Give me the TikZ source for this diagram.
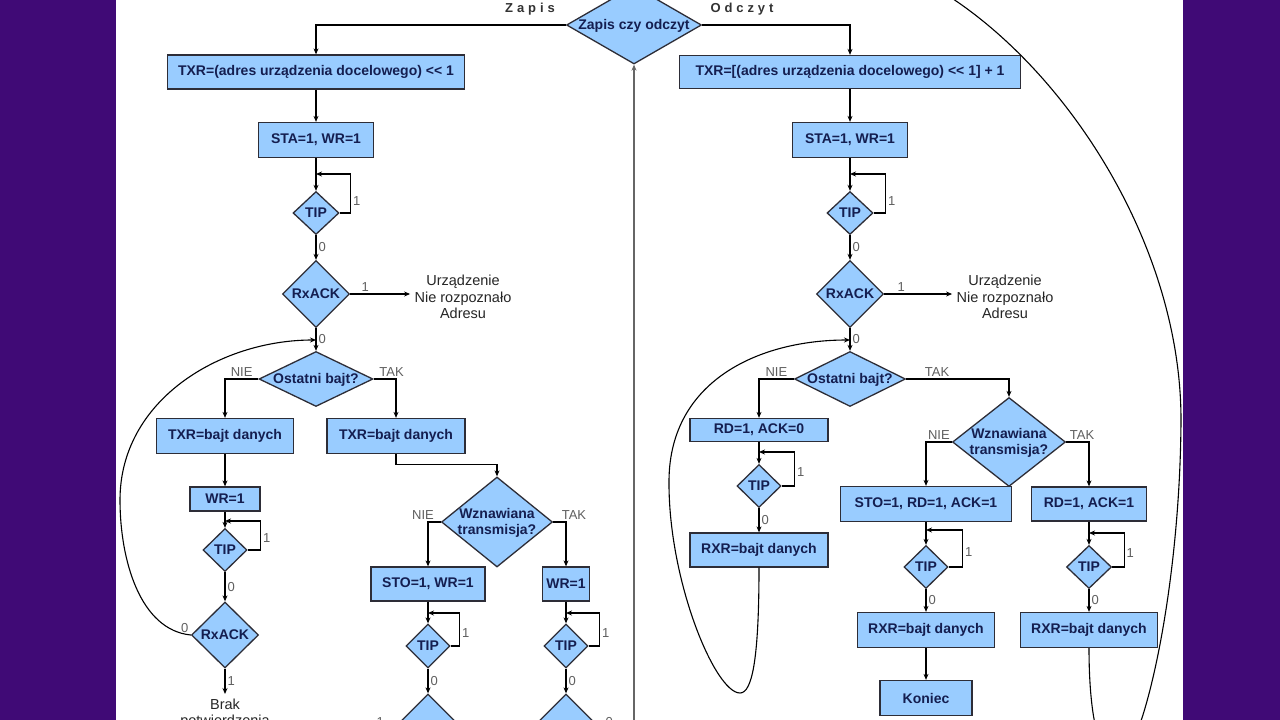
\documentclass[tikz,border=0pt]{standalone}
\usepackage{fontspec}
\setmainfont{Liberation Sans}
\usetikzlibrary{shapes.geometric,arrows.meta}
\definecolor{tlo}{RGB}{64,10,118}
\definecolor{pole}{RGB}{153,204,255}
\definecolor{ramka}{RGB}{45,45,55}
\definecolor{napis}{RGB}{20,30,80}
\definecolor{szary}{RGB}{95,95,95}
\newcommand{\dtxt}[1]{\smash{\makebox[0pt]{\raisebox{-.38em}{\begin{tabular}{@{}c@{}}#1\end{tabular}}}}}
\newcommand{\shl}{\textless\kern0pt\textless}
\begin{document}
\begin{tikzpicture}[x=1pt,y=-1pt,line width=1.1pt,>={Stealth[length=6pt,width=5pt]},
  box/.style={draw=ramka,fill=pole,line width=1.3pt,inner sep=0pt,text=napis,font=\bfseries\fontsize{14}{16}\selectfont},
  dia/.style={diamond,draw=ramka,fill=pole,line width=1.3pt,inner sep=0pt,text=napis,font=\bfseries\fontsize{14}{16}\selectfont},
  lab/.style={text=szary,font=\fontsize{13}{15}\selectfont,inner sep=2pt},
  kier/.style={text=black!80,font=\bfseries\fontsize{13}{15}\selectfont\addfontfeatures{LetterSpace=30}},
  uwaga/.style={text=black!85,font=\fontsize{14.5}{16.5}\selectfont,align=center,inner sep=4pt}]
\useasboundingbox (0,0) rectangle (1280,720);
\fill[tlo] (0,0) rectangle (1280,720);
\fill[white] (116,0) rectangle (1183,720);
\clip (116,0) rectangle (1183,720);

\node[dia,minimum width=135pt,minimum height=78pt] (zc) at (634,25) {\dtxt{Zapis czy odczyt}};
\node[kier] (zp) at (530,9) {Zapis};
\node[kier] (od) at (742,9) {Odczyt};

\node[box,minimum width=297pt,minimum height=34pt] (t1) at (316,72) {TXR=(adres urządzenia docelowego) \shl{} 1};
\node[box,minimum width=115pt,minimum height=35pt] (s1) at (316,140) {STA=1, WR=1};
\node[dia,minimum width=46pt,minimum height=43pt] (p1) at (316,213) {\dtxt{TIP}};
\node[dia,minimum width=67pt,minimum height=67pt] (r1) at (316,294) {\dtxt{RxACK}};
\node[uwaga] (u1) at (463,297) {Urządzenie\\Nie rozpoznało\\Adresu};
\node[dia,minimum width=114pt,minimum height=55pt] (o1) at (316,379) {\dtxt{Ostatni bajt?}};
\node[box,minimum width=137pt,minimum height=35pt] (b1) at (225,436) {TXR=bajt danych};
\node[box,minimum width=138pt,minimum height=35pt] (b2) at (396,436) {TXR=bajt danych};
\node[box,minimum width=70pt,minimum height=24pt] (w1) at (225,499) {WR=1};
\node[dia,minimum width=44pt,minimum height=43pt] (p2) at (225,550) {\dtxt{TIP}};
\node[dia,minimum width=67pt,minimum height=66pt] (r2) at (225,635) {\dtxt{RxACK}};
\node[uwaga,anchor=north] (bp) at (225,694) {Brak\\potwierdzenia};
\node[dia,minimum width=111pt,minimum height=90pt] (n1) at (497,522) {\dtxt{Wznawiana\\transmisja?}};
\node[box,minimum width=114pt,minimum height=34pt] (s2) at (428,584) {STO=1, WR=1};
\node[box,minimum width=47pt,minimum height=34pt] (w2) at (566,584) {WR=1};
\node[dia,minimum width=44pt,minimum height=44pt] (p3) at (428,646) {\dtxt{TIP}};
\node[dia,minimum width=44pt,minimum height=44pt] (p4) at (566,646) {\dtxt{TIP}};
\node[dia,minimum width=70pt,minimum height=70pt] (r3) at (428,729) {\dtxt{RxACK}};
\node[dia,minimum width=70pt,minimum height=70pt] (r4) at (566,729) {\dtxt{RxACK}};

\node[box,minimum width=341pt,minimum height=33pt] (t2) at (850,72) {TXR=[(adres urządzenia docelowego) \shl{} 1] + 1};
\node[box,minimum width=115pt,minimum height=35pt] (s3) at (850,140) {STA=1, WR=1};
\node[dia,minimum width=46pt,minimum height=43pt] (p5) at (850,213) {\dtxt{TIP}};
\node[dia,minimum width=67pt,minimum height=67pt] (r5) at (850,294) {\dtxt{RxACK}};
\node[uwaga] (u2) at (1005,297) {Urządzenie\\Nie rozpoznało\\Adresu};
\node[dia,minimum width=111pt,minimum height=55pt] (o2) at (850,379) {\dtxt{Ostatni bajt?}};
\node[box,minimum width=138pt,minimum height=23pt] (d1) at (759,430) {RD=1, ACK=0};
\node[dia,minimum width=44pt,minimum height=43pt] (p6) at (759,486) {\dtxt{TIP}};
\node[box,minimum width=138pt,minimum height=34pt] (x1) at (759,550) {RXR=bajt danych};
\node[dia,minimum width=113pt,minimum height=89pt] (n2) at (1009,442) {\dtxt{Wznawiana\\transmisja?}};
\node[box,minimum width=171pt,minimum height=35pt] (s4) at (926,504) {STO=1, RD=1, ACK=1};
\node[box,minimum width=115pt,minimum height=34pt] (d2) at (1089,504) {RD=1, ACK=1};
\node[dia,minimum width=44pt,minimum height=43pt] (p7) at (926,567) {\dtxt{TIP}};
\node[dia,minimum width=45pt,minimum height=43pt] (p8) at (1089,567) {\dtxt{TIP}};
\node[box,minimum width=137pt,minimum height=35pt] (x2) at (926,630) {RXR=bajt danych};
\node[box,minimum width=137pt,minimum height=35pt] (x3) at (1089,630) {RXR=bajt danych};
\node[box,minimum width=92pt,minimum height=35pt] (k1) at (926,698) {Koniec};

\coordinate (j1) at (316,174);
\coordinate (j2) at (316,340);
\coordinate (j3) at (225,521);
\coordinate (j4) at (428,613);
\coordinate (j5) at (566,613);
\coordinate (j6) at (850,174);
\coordinate (j7) at (759,452);
\coordinate (j8) at (850,340);
\coordinate (j9) at (926,530);
\coordinate (j10) at (1089,533);
\coordinate (cb) at (634,800);

\draw[->] (zc.west) -| (t1.north);
\draw[->] (zc.east) -| (t2.north);
\draw[->,black!60,line width=2pt] (cb) -- (zc.south);

\draw[->] (t1) -- (s1);
\draw[->] (s1) -- (p1);
\draw[->] (p1.east) -- ++(11,0) |- node[lab,right,pos=.15]{1} (j1);
\draw[->] (p1) -- node[lab,right]{0} (r1);
\draw[->] (r1.east) -- node[lab,above,pos=.25]{1} (r1.east -| u1.west);
\draw[->] (r1) -- node[lab,right]{0} (o1);
\draw[->] (o1.west) -| node[lab,above,pos=.25]{NIE} (b1.north);
\draw[->] (o1.east) -| node[lab,above,pos=.4]{TAK} (b2.north);
\draw[->] (b1) -- (w1);
\draw[->] (w1) -- (p2);
\draw[->] (p2.east) -- ++(13,0) |- node[lab,right,pos=.2]{1} (j3);
\draw[->] (p2) -- node[lab,right]{0} (r2);
\draw[->] (r2.west) node[lab,above left]{0} .. controls (140,630) and (120,560) .. (120,500) .. controls (120,400) and (220,340) .. (j2);
\draw[->] (r2) -- node[lab,right]{1} (bp);
\draw[->] (b2.south) -- ++(0,10) -| (n1.north);
\draw[->] (n1.west) -| node[lab,above,pos=.5,xshift=-5pt]{NIE} (s2.north);
\draw[->] (n1.east) -| node[lab,above,pos=.5,xshift=8pt]{TAK} (w2.north);
\draw[->] (s2) -- (p3);
\draw[->] (p3.east) -- ++(9,0) |- node[lab,right,pos=.2]{1} (j4);
\draw[->] (p3) -- node[lab,right]{0} (r3);
\draw (r3.west) -- node[lab,above,pos=.4]{1} ++(-30,0);
\draw[->] (w2) -- (p4);
\draw[->] (p4.east) -- ++(11,0) |- node[lab,right,pos=.2]{1} (j5);
\draw[->] (p4) -- node[lab,right]{0} (r4);
\draw (r4.east) -- node[lab,above,pos=.25]{0} ++(30,0);

\draw[->] (t2) -- (s3);
\draw[->] (s3) -- (p5);
\draw[->] (p5.east) -- ++(12,0) |- node[lab,right,pos=.15]{1} (j6);
\draw[->] (p5) -- node[lab,right]{0} (r5);
\draw[->] (r5.east) -- node[lab,above,pos=.25]{1} (r5.east -| u2.west);
\draw[->] (r5) -- node[lab,right]{0} (o2);
\draw[->] (o2.west) -| node[lab,above,pos=.25]{NIE} (d1.north);
\draw[->] (o2.east) -| node[lab,above,pos=.15]{TAK} (n2.north);
\draw[->] (d1) -- (p6);
\draw[->] (p6.east) -- ++(13,0) |- node[lab,right,pos=.2]{1} (j7);
\draw[->] (p6) -- node[lab,right]{0} (x1);
\draw[->] (x1.south) .. controls (759,660) and (752,693) .. (740,693) .. controls (715,693) and (668,580) .. (669,480) .. controls (670,380) and (760,340) .. (j8);
\draw[->] (n2.west) -| node[lab,above,pos=.25]{NIE} (s4.north);
\draw[->] (n2.east) -| node[lab,above,pos=.35]{TAK} (d2.north);
\draw[->] (s4) -- (p7);
\draw[->] (p7.east) -- ++(14,0) |- node[lab,right,pos=.2]{1} (j9);
\draw[->] (p7) -- node[lab,right]{0} (x2);
\draw[->] (x2) -- (k1);
\draw[->] (d2) -- (p8);
\draw[->] (p8.east) -- ++(12,0) |- node[lab,right,pos=.2]{1} (j10);
\draw[->] (p8) -- node[lab,right]{0} (x3);
\draw[->] (x3.south) .. controls (1089,700) and (1095,760) .. (1118,760) .. controls (1140,760) and (1180,600) .. (1181,420) .. controls (1181,200) and (1000,-20) .. (850,-45) .. controls (700,-48) and (634,-45) .. (zc.north);
\end{tikzpicture}
\end{document}
